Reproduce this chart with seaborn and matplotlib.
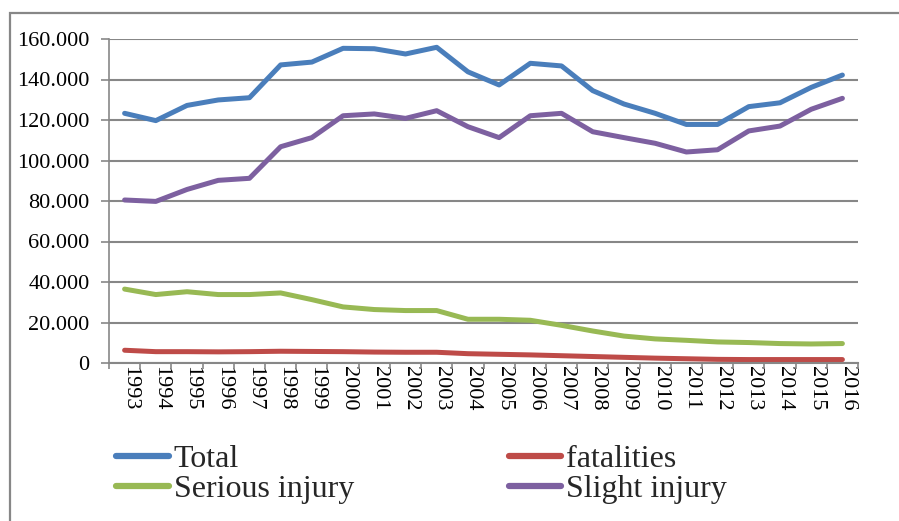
import numpy as np
import pandas as pd
import seaborn as sns
import matplotlib.pyplot as plt
from matplotlib.patches import Rectangle
from matplotlib.ticker import FuncFormatter, FixedLocator
from matplotlib.transforms import ScaledTranslation

# ============================================================
# DATA
# ============================================================
years = list(range(1993, 2017))

total = [123300, 119700, 127200, 129900, 131000, 147200, 148600, 155400,
         155200, 152600, 155900, 143800, 137300, 148000, 146700, 134500,
         127900, 123300, 117800, 117800, 126600, 128500, 136100, 142200]

fatalities = [6300, 5600, 5600, 5500, 5600, 5800, 5700, 5600,
              5400, 5300, 5300, 4600, 4300, 4000, 3600, 3200,
              2800, 2400, 2100, 1800, 1700, 1700, 1700, 1700]

serious = [36500, 33800, 35200, 33800, 33800, 34600, 31300, 27700,
           26400, 25900, 25900, 21600, 21600, 21100, 18600, 15800,
           13300, 11900, 11200, 10400, 10100, 9600, 9400, 9600]

slight = [80500, 79800, 85700, 90200, 91200, 106800, 111300, 122100,
          123000, 120800, 124600, 116700, 111300, 122100, 123300, 114200,
          111300, 108500, 104200, 105300, 114600, 117000, 125300, 130700]

series_names = ["Total", "Serious injury", "fatalities", "Slight injury"]
colors = {"Total": "#4A7EBB", "fatalities": "#BE4B48",
          "Serious injury": "#98B954", "Slight injury": "#7D60A0"}

df = pd.DataFrame({"year": years, "Total": total, "fatalities": fatalities,
                   "Serious injury": serious, "Slight injury": slight})
long_df = df.melt(id_vars="year", var_name="series", value_name="value")

# ============================================================
# PLOT
# ============================================================
sns.set_style("white")
SERIF = ["Liberation Serif", "DejaVu Serif"]
plt.rcParams["font.family"] = SERIF

W, H = 899, 521
fig = plt.figure(figsize=(W / 100, H / 100), dpi=100)
ax = fig.add_axes([109 / W, 1 - 363 / H, (858 - 109) / W, (363 - 39) / H])

sns.lineplot(data=long_df, x="year", y="value", hue="series",
             hue_order=series_names, palette=colors, linewidth=3.6,
             ax=ax, legend=False, solid_capstyle="round")

ax.set_xlim(years[0] - 0.5, years[-1] + 0.5)
ax.set_ylim(0, 160000)
ax.set_yticks(np.arange(0, 160001, 20000))
ax.yaxis.set_major_formatter(FuncFormatter(lambda v, p: f"{int(v):,}".replace(",", ".")))
ax.set_xticks(years)
ax.set_xticklabels([str(y) for y in years], rotation=-90, fontsize=16)
ax.xaxis.set_minor_locator(FixedLocator(np.arange(years[0] - 0.5, years[-1] + 1, 1)))
ax.set_xlabel("")
ax.set_ylabel("")

grey = "#878787"
ax.grid(axis="y", color=grey, linewidth=1.5)
ax.grid(axis="x", visible=False)
for side in ["top", "right"]:
    ax.spines[side].set_visible(False)
ax.spines["left"].set_color(grey)
ax.spines["left"].set_linewidth(1.2)
ax.spines["bottom"].set_color(grey)
ax.spines["bottom"].set_linewidth(1.5)
ax.tick_params(axis="y", which="major", left=True, length=5.5, width=1.2,
               color=grey, labelsize=16, pad=8.5, labelcolor="black")
ax.tick_params(axis="x", which="major", bottom=False, length=0, pad=2,
               labelcolor="black")
ax.tick_params(axis="x", which="minor", bottom=True, length=4, width=1.2,
               color=grey)

offset = ScaledTranslation(5 / 100, 0, fig.dpi_scale_trans)
for lab in ax.get_xticklabels():
    lab.set_transform(lab.get_transform() + offset)
for lab in ax.get_xticklabels() + ax.get_yticklabels():
    lab.set_fontfamily(SERIF)

# legend (two columns, filled column-wise)
handles = [plt.Line2D([], [], color=colors[n], linewidth=4.5,
                      solid_capstyle="round") for n in series_names]
leg = ax.legend(handles, series_names, ncol=2, frameon=False, fontsize=23,
                loc="upper left", bbox_to_anchor=(116 / W, 1 - 445 / H),
                bbox_transform=fig.transFigure, handlelength=1.65,
                handletextpad=0.15, labelspacing=0.0, columnspacing=4.85,
                borderpad=0, borderaxespad=0)
for t in leg.get_texts():
    t.set_fontfamily(SERIF)

# outer chart frame (cropped on the right and bottom)
fig.patches.append(Rectangle((10 / W, -0.2), 1.5, 1.2 - 13 / H,
                             transform=fig.transFigure, fill=False,
                             edgecolor=grey, linewidth=1.6, zorder=2))
# bottom crop of the legend text
fig.patches.append(Rectangle((12 / W, 0), 1, 16 / H, transform=fig.transFigure,
                             facecolor="white", edgecolor="none", zorder=10))

fig.savefig("out.png", dpi=100)
